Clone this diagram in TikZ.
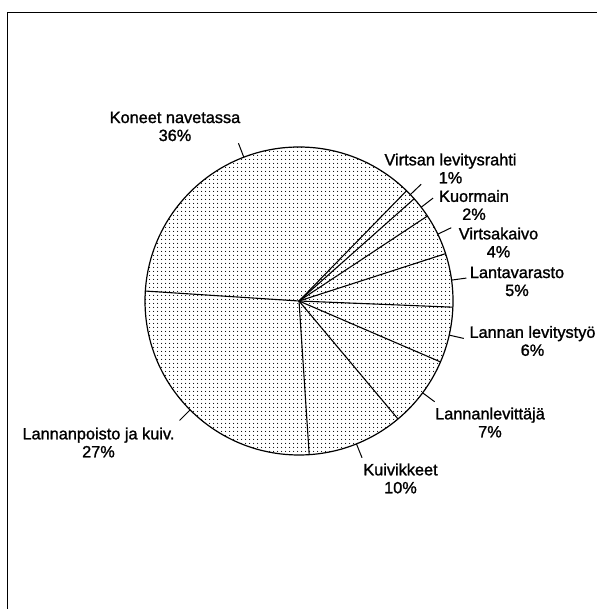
\documentclass[tikz,border=0pt]{standalone}
\usepackage{fontspec}
\setmainfont{Liberation Sans}
\newfontfamily\lblfont[RawFeature={embolden=1.3}]{Liberation Sans}
\usetikzlibrary{patterns}
\pgfdeclarepatternformonly{piedots}{\pgfpointorigin}{\pgfpoint{4pt}{4pt}}{\pgfpoint{4pt}{4pt}}{%
  \pgfpathcircle{\pgfpoint{2pt}{2pt}}{0.65pt}\pgfusepath{fill}}
\begin{document}
\begin{tikzpicture}[x=1pt,y=1pt,
  lbl/.style={font=\lblfont\fontsize{16.3}{18}\selectfont, align=center, inner sep=0pt},
  rim/.style={line width=1.2pt},
  spoke/.style={line width=1.1pt},
  leader/.style={line width=1pt}]
\useasboundingbox (0,0) rectangle (597,609);
% frame (top and left edges visible)
\draw[line width=1.3pt] (7.5,0) -- (7.5,596.7) -- (597,596.7);
% pie
\coordinate (c) at (299,308);
\fill[pattern=piedots] (c) circle[radius=154];
\draw[rim] (c) circle[radius=154];
\foreach \a in {45.7,41.6,33.5,17.9,-2.3,-23.3,-50,-86.2,176.3}
  \draw[spoke] (c) -- ([shift={(\a:154)}]c);
% leader ticks
\foreach \a/\n in {111/kon,43.7/vir,37.5/kuo,25.7/vka,7.8/lan,-12.8/lev,-36.6/llv,-68.1/kui,225/lpo}{
  \coordinate (\n-in) at ([shift={(\a:154)}]c);
  \coordinate (\n-out) at ([shift={(\a:169)}]c);
  \draw[leader] (\n-in) -- (\n-out);
}
% labels
\node[lbl] (kon) at (175,482.5) {Koneet navetassa\\36\%};
\node[lbl] (vir) at (450.5,440.5) {Virtsan levitysrahti\\1\%};
\node[lbl] (kuo) at (474,404) {Kuormain\\2\%};
\node[lbl] (vka) at (498.5,366.5) {Virtsakaivo\\4\%};
\node[lbl] (lan) at (517,327.5) {Lantavarasto\\5\%};
\node[lbl] (lev) at (532.5,268) {Lannan levitystyö\\6\%};
\node[lbl] (llv) at (490,186.5) {Lannanlevittäjä\\7\%};
\node[lbl] (kui) at (400.5,130.5) {Kuivikkeet\\10\%};
\node[lbl] (lpo) at (98.5,166.5) {Lannanpoisto ja kuiv.\\27\%};
\end{tikzpicture}
\end{document}
